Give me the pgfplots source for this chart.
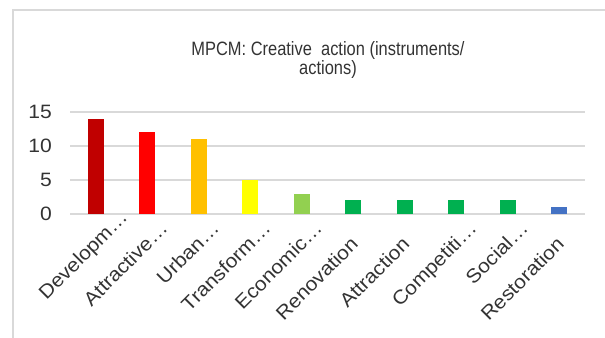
\documentclass[border=0pt]{standalone}
\usepackage{fontspec}
\setmainfont{Liberation Sans}
\newfontfamily\tickfont[FakeStretch=1.09]{Liberation Sans}
\newfontfamily\titlefont[FakeStretch=0.85]{Liberation Sans}
\usepackage{pgfplots}
\pgfplotsset{compat=1.18}
\definecolor{gridc}{HTML}{D9D9D9}
\definecolor{txt}{HTML}{333333}
\definecolor{c1}{HTML}{C00000}
\definecolor{c2}{HTML}{FF0000}
\definecolor{c3}{HTML}{FFC000}
\definecolor{c4}{HTML}{FFFF00}
\definecolor{c5}{HTML}{92D050}
\definecolor{c6}{HTML}{00B050}
\definecolor{c7}{HTML}{4472C4}
\begin{document}
\begin{tikzpicture}
\useasboundingbox (-52.5pt,-92.25pt) rectangle (401.25pt,160.5pt);
\draw[gridc, line width=1.1pt] (-42.75pt,-95pt) -- (-42.75pt,153pt) -- (405pt,153pt);
\begin{axis}[
  at={(0pt,0pt)}, anchor=south west,
  scale only axis, width=386.25pt, height=76.5pt,
  xmin=-0.5, xmax=9.5, ymin=0, ymax=15,
  ytick={0,5,10,15}, xtick={0,...,9},
  xticklabels={
    {Developm…\hspace*{-28.5pt}},
    {Attractive…\hspace*{-16.5pt}},
    {Urban…\hspace*{-16.5pt}},
    {Transform…\hspace*{-16.5pt}},
    {Economic…\hspace*{-16.5pt}},
    {Renovation},
    {Attraction},
    {Competiti…\hspace*{-16.5pt}},
    {Social…\hspace*{-16.5pt}},
    {Restoration}},
  axis line style={draw=none},
  major tick length=0pt,
  ymajorgrids, grid style={gridc, line width=1.1pt},
  ybar, bar width=12pt,
  /pgf/number format/assume math mode=true,
  yticklabel style={font=\tickfont\fontsize{14.5}{14.5}\selectfont, text=txt, inner sep=0pt, anchor=east, xshift=-13.5pt},
  xticklabel style={font=\tickfont\fontsize{14.5}{14.5}\selectfont, text=txt, inner sep=0pt, xshift=-3pt, yshift=-16pt, rotate=45, anchor=north east},
]
\addplot[fill=c1, draw=none, bar shift=0pt] coordinates {(0,14)};
\addplot[fill=c2, draw=none, bar shift=0pt] coordinates {(1,12)};
\addplot[fill=c3, draw=none, bar shift=0pt] coordinates {(2,11)};
\addplot[fill=c4, draw=none, bar shift=0pt] coordinates {(3,5)};
\addplot[fill=c5, draw=none, bar shift=0pt] coordinates {(4,3)};
\addplot[fill=c6, draw=none, bar shift=0pt] coordinates {(5,2)};
\addplot[fill=c6, draw=none, bar shift=0pt] coordinates {(6,2)};
\addplot[fill=c6, draw=none, bar shift=0pt] coordinates {(7,2)};
\addplot[fill=c6, draw=none, bar shift=0pt] coordinates {(8,2)};
\addplot[fill=c7, draw=none, bar shift=0pt] coordinates {(9,1)};
\end{axis}
\node[anchor=base, text=txt, font=\titlefont\fontsize{14.5}{14.5}\selectfont] at (193.5pt,119.25pt) {MPCM: Creative~ action (instruments/};
\node[anchor=base, text=txt, font=\titlefont\fontsize{14.5}{14.5}\selectfont] at (193.5pt,104.5pt) {actions)};
\end{tikzpicture}
\end{document}
